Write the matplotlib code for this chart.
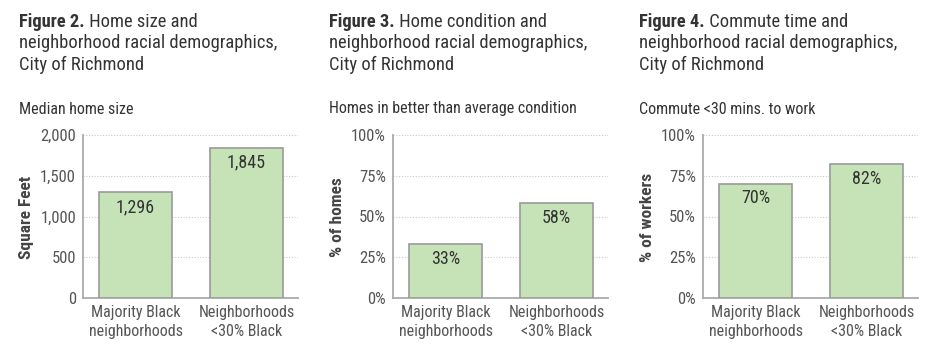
import matplotlib
matplotlib.use("Agg")
import matplotlib.pyplot as plt
from matplotlib.ticker import FuncFormatter

plt.rcParams['font.family'] = ['Roboto Condensed', 'Liberation Sans Narrow', 'Roboto', 'DejaVu Sans']

# ---------- data ----------
categories = ["Majority Black\nneighborhoods", "Neighborhoods\n<30% Black"]

fig_nums   = ["Figure 2.", "Figure 3.", "Figure 4."]
fig_titles = [" Home size and\nneighborhood racial demographics,\nCity of Richmond",
              " Home condition and\nneighborhood racial demographics,\nCity of Richmond",
              " Commute time and\nneighborhood racial demographics,\nCity of Richmond"]
subtitles  = ["Median home size", "Homes in better than average condition",
              "Commute <30 mins. to work"]
ylabels    = ["Square Feet", "% of homes", "% of workers"]

home_size   = [1296, 1845]
home_cond   = [33, 58]
commute     = [70, 82]
series      = [home_size, home_cond, commute]
yticks_list = [[0, 500, 1000, 1500, 2000], [0, 25, 50, 75, 100], [0, 25, 50, 75, 100]]

# ---------- style ----------
W, H = 931, 354
BAR   = "#c6e3b8"
EDGE  = "#9a9a9a"
AXC   = "#aaaaaa"
TXT   = "#333333"
TICK  = "#555555"

fig = plt.figure(figsize=(W / 100, H / 100), dpi=100)
renderer = fig.canvas.get_renderer()

for i in range(3):
    x0 = 310 * i
    ax = fig.add_axes([(x0 + 83) / W, 56 / H, 215 / W, 163 / H])
    vals = series[i]
    ticks = yticks_list[i]
    ax.bar([0, 1], vals, width=0.66, color=BAR, edgecolor=EDGE, linewidth=1.2, zorder=3)
    ax.set_xlim(-0.473, 1.464)
    ax.set_ylim(0, ticks[-1])
    ax.set_yticks(ticks)
    if i == 0:
        ax.yaxis.set_major_formatter(FuncFormatter(lambda v, p: f"{int(v):,}"))
        labels = [f"{v:,}" for v in vals]
    else:
        ax.yaxis.set_major_formatter(FuncFormatter(lambda v, p: f"{int(v)}%"))
        labels = [f"{v}%" for v in vals]
    for t in ticks[1:]:
        ax.axhline(t, color="#c8c8c8", linestyle=(0, (1, 1.5)), linewidth=0.8, zorder=1)
    ax.set_xticks([0, 1])
    ax.set_xticklabels(categories, fontsize=11.5, color=TICK, linespacing=1.35)
    ax.tick_params(axis="both", length=0, labelcolor=TICK)
    ax.tick_params(axis="y", pad=5, labelsize=12)
    ax.tick_params(axis="x", pad=5)
    for s in ["top", "right"]:
        ax.spines[s].set_visible(False)
    for s in ["left", "bottom"]:
        ax.spines[s].set_color(AXC)
        ax.spines[s].set_linewidth(1.3)
    for xi, (v, lab) in enumerate(zip(vals, labels)):
        ax.annotate(lab, (xi, v), xytext=(0, -10.5), textcoords="offset points",
                    ha="center", va="center", fontsize=13, color=TXT, zorder=4)

    # y label
    fig.text((x0 + 27) / W, 1 - 217 / H, ylabels[i], rotation=90, ha="center", va="center",
             fontsize=12.5, fontweight="bold", color="#444444")
    # subtitle
    fig.text((x0 + 19) / W, 1 - 109 / H, subtitles[i], ha="left", va="center",
             fontsize=11.5, color=TXT)
    # title: bold figure number then regular text
    top = 1 - 13 / H
    tb = fig.text((x0 + 19) / W, top, fig_nums[i], ha="left", va="top",
                  fontsize=13.3, fontweight="bold", color=TXT)
    bb = tb.get_window_extent(renderer=renderer)
    lines = fig_titles[i].split("\n")
    fig.text(bb.x1 / W, top, lines[0], ha="left", va="top", fontsize=13.3, color=TXT)
    fig.text((x0 + 19) / W, top - 21 / H, "\n".join(lines[1:]), ha="left", va="top",
             fontsize=13.3, color=TXT, linespacing=1.3)

fig.savefig("out.png", dpi=100)
